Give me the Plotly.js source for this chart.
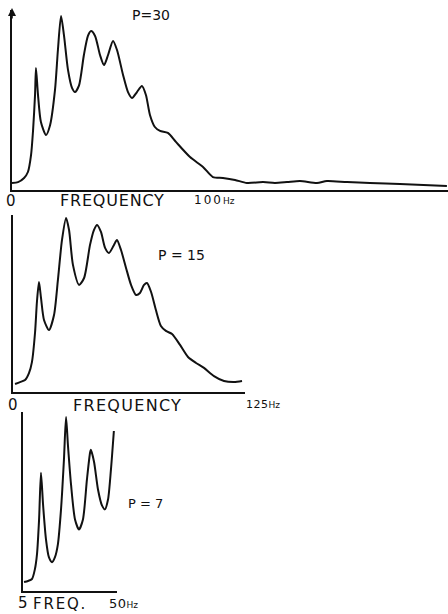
<!DOCTYPE html>
<html>
<head>
<meta charset="utf-8">
<script src="https://cdn.plot.ly/plotly-3.0.1.min.js"></script>
<style>html,body{margin:0;padding:0;background:#fff;}#chart{width:448px;height:614px;}</style>
</head>
<body>
<div id="chart"></div>
<script>
// P = 30 spectrum (frequency in Hz, relative amplitude)
var freq30 = [0, 3.3, 6.6, 8.7, 10.4, 11.5, 12.6, 13.1, 14.2, 15.8, 18.6, 20.8, 23.5, 25.1, 26.8, 28.4, 30.6, 32.8, 34.4, 36.6, 39.3, 41.5, 43.2, 45.4, 48.1, 50.3, 52.5, 55.2, 57.4, 60.7, 63.4, 65.6, 68.3, 71.0, 73.2, 75.4, 78.1, 80.9, 85.2, 89.6, 97.3, 104.4, 109.8, 115.3, 121.9, 128.4, 137.2, 143.7, 150.3, 157.4, 166.7, 172.1, 183.1, 195.6, 212.0, 237.7];
var amp30  = [3.9, 4.4, 6.7, 10, 19.4, 33, 53, 67.8, 53, 37.8, 30.6, 36, 55.6, 77.8, 96.7, 86, 66.7, 56.7, 54.4, 58, 75, 85.6, 88.3, 85.6, 75, 69.4, 75, 82.8, 77.8, 63.9, 54.4, 51.1, 54.4, 57.8, 52.8, 41.7, 35, 32.8, 31.7, 26.7, 18.3, 12.8, 7.2, 6.7, 5.6, 3.9, 4.4, 3.9, 4.4, 5, 3.9, 5, 4.4, 3.9, 3.3, 2.2];

// P = 15 spectrum
var freq15 = [1.1, 3.8, 6.5, 8.6, 10.2, 11.9, 12.9, 14.0, 15.1, 16.7, 19.4, 22.1, 24.2, 26.4, 28.6, 30.2, 32.3, 35.6, 38.3, 41.5, 43.6, 45.3, 47.4, 49.6, 51.7, 54.4, 56.0, 58.2, 60.9, 63.6, 66.3, 68.4, 70.6, 72.2, 74.4, 77.0, 79.7, 82.4, 85.7, 90.0, 94.3, 98.6, 102.9, 108.3, 113.7, 119.1, 123.4];
var amp15  = [4.5, 5.6, 6.8, 10.7, 16.9, 33.9, 51, 62.1, 53, 40.7, 35, 43.5, 63.3, 85.9, 98.3, 91.5, 71.8, 60.5, 64.4, 83.1, 91.5, 94.4, 90.4, 81.4, 78.5, 83.1, 85.9, 80.2, 70.1, 60.5, 54.8, 55.9, 60.5, 61.6, 56.5, 46.3, 37.3, 34.5, 32.8, 26.6, 19.8, 16.4, 13.6, 9, 6.2, 5.6, 6.2];

// P = 7 spectrum
var freq7 = [5.5, 7.4, 9.3, 10.7, 11.7, 12.7, 13.6, 14.6, 16.0, 17.4, 18.9, 20.3, 21.7, 23.2, 24.6, 25.6, 26.5, 28.0, 29.9, 31.8, 33.7, 35.6, 37.1, 37.5, 39.0, 40.9, 42.8, 44.2, 45.7, 47.1, 48.5];
var amp7  = [5, 5.6, 6.7, 12.2, 20.6, 40, 66.1, 48.3, 28.9, 18.9, 16.1, 18.9, 26.1, 45.6, 73.3, 97.2, 81.7, 59.4, 40, 34.4, 40, 62.2, 77.2, 78.9, 72.2, 56.7, 47.8, 45.6, 51.1, 67.8, 89.4];

// Text labels
var panelLabels = ["P=30", "P = 15", "P = 7"];
var axisTitles = ["FREQUENCY", "FREQUENCY", "FREQ."];
var startLabels = ["0", "0", "5"];
var endValues = ["100", "125", "50"];
var unit = "Hz";

var W = 448, H = 614;
function px(x){ return x / W; }
function py(y){ return 1 - y / H; }

var lineStyle = {color: '#111', width: 2, shape: 'spline', smoothing: 0.7};
var traces = [
  {x: freq30, y: amp30, xaxis: 'x', yaxis: 'y', mode: 'lines', line: lineStyle, hoverinfo: 'skip'},
  {x: freq15, y: amp15, xaxis: 'x2', yaxis: 'y2', mode: 'lines', line: lineStyle, hoverinfo: 'skip'},
  {x: freq7, y: amp7, xaxis: 'x3', yaxis: 'y3', mode: 'lines', line: lineStyle, hoverinfo: 'skip'}
];

function xax(domain, range, anchor){
  return {domain: domain, range: range, anchor: anchor, showline: true, linecolor: '#111', linewidth: 1.6,
          showgrid: false, zeroline: false, showticklabels: false, ticks: '', fixedrange: true};
}
function yax(domain, anchor){
  return {domain: domain, range: [0, 100], anchor: anchor, showline: true, linecolor: '#111', linewidth: 1.6,
          showgrid: false, zeroline: false, showticklabels: false, ticks: '', fixedrange: true};
}

var fnt = {family: 'DejaVu Sans, Liberation Sans, sans-serif', color: '#111'};
function sp(t, ls){ return '<span style="letter-spacing:' + ls + 'px">' + t + '</span>'; }
function txt(text, x, y, size, anchor){
  return {text: text, xref: 'paper', yref: 'paper', x: px(x), y: py(y), xanchor: anchor || 'center', yanchor: 'middle',
          showarrow: false, font: Object.assign({size: size}, fnt)};
}
function withUnit(v, s, ls){ return sp(v, ls) + '<span style="font-size:' + s + 'px">' + unit + '</span>'; }

var annotations = [
  txt(panelLabels[0], 151, 15, 14),
  txt(startLabels[0], 11, 201, 15),
  txt(sp(axisTitles[0], 0.8), 112, 201, 16),
  txt(withUnit(endValues[0], 9, 2), 192, 200, 12, 'left'),
  txt(panelLabels[1], 181, 255, 14),
  txt(startLabels[1], 13, 405, 15),
  txt(sp(axisTitles[1], 1.3), 127, 405, 16),
  txt(withUnit(endValues[1], 9, 0.5), 244, 404, 11, 'left'),
  txt(panelLabels[2], 145, 503, 13),
  txt(startLabels[2], 23, 603, 15),
  txt(sp(axisTitles[2], 1.8), 60, 604, 15),
  txt(withUnit(endValues[2], 9, 0.5), 107, 603, 13, 'left'),
  {text: '', xref: 'paper', yref: 'paper', x: px(12), y: py(8), ax: 0, ay: 12, showarrow: true,
   arrowhead: 2, arrowsize: 1, arrowwidth: 1.6, arrowcolor: '#111', axref: 'pixel', ayref: 'pixel'}
];

var layout = {
  width: W, height: H,
  margin: {l: 0, r: 0, t: 0, b: 0},
  paper_bgcolor: '#fff', plot_bgcolor: 'rgba(0,0,0,0)',
  showlegend: false,
  xaxis: xax([px(12), 1], [0, 238.3], 'y'),
  yaxis: yax([py(190), py(10)], 'x'),
  xaxis2: xax([px(13), px(245)], [0, 125], 'y2'),
  yaxis2: yax([py(392), py(215)], 'x2'),
  xaxis3: xax([px(23), px(117)], [5, 50], 'y3'),
  yaxis3: yax([py(591), py(412)], 'x3'),
  annotations: annotations
};

Plotly.newPlot('chart', traces, layout, {staticPlot: true, displayModeBar: false});
</script>
</body>
</html>
